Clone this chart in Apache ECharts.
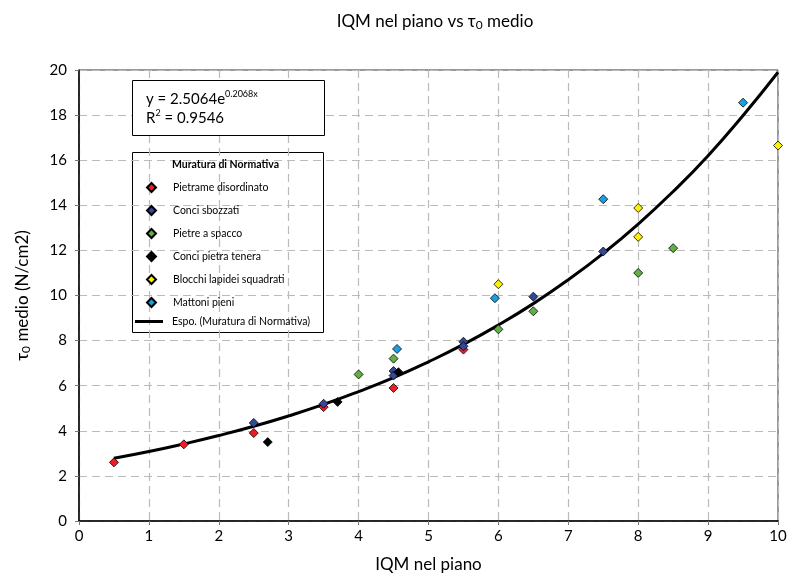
<!DOCTYPE html>
<html>
<head>
<meta charset="utf-8">
<title>IQM nel piano vs tau0 medio</title>
<script src="https://cdn.jsdelivr.net/npm/echarts@6/dist/echarts.min.js"></script>
<style>
  html, body { margin: 0; padding: 0; background: #fff; }
  #chart { width: 793px; height: 582px; }
</style>
</head>
<body>
<div id="chart"></div>
<script>
// punti [IQM nel piano, tau0 medio]
const pietrameDisordinato = [[0.5, 2.6], [1.5, 3.4], [2.5, 3.9], [3.5, 5.05], [4.5, 5.9], [5.5, 7.6]];
const conciSbozzati = [[2.5, 4.35], [3.5, 5.2], [4.5, 6.65], [4.5, 6.45], [5.5, 7.95], [5.5, 7.75], [6.5, 9.95], [7.5, 11.95]];
const pietreSpacco = [[4.0, 6.5], [4.5, 7.2], [6.0, 8.5], [6.5, 9.3], [8.0, 11.0], [8.5, 12.1]];
const conciPietraTenera = [[2.7, 3.5], [3.7, 5.28], [4.57, 6.6]];
const blocchiLapidei = [[6.0, 10.5], [8.0, 12.6], [8.0, 13.88], [10.0, 16.65]];
const mattoniPieni = [[4.55, 7.63], [5.95, 9.88], [7.5, 14.27], [9.5, 18.55]];
// curva di tendenza
const trendX = [0.5, 1, 1.5, 2, 2.5, 3, 3.5, 4, 4.5, 5, 5.5, 6, 6.5, 7, 7.5, 8, 8.5, 9, 9.5, 10];
const trendY = [2.78, 3.08, 3.42, 3.79, 4.2, 4.66, 5.17, 5.74, 6.36, 7.06, 7.83, 8.69, 9.64, 10.7, 11.87, 13.17, 14.61, 16.2, 17.98, 19.9];

const seriesNames = ['Pietrame disordinato', 'Conci sbozzati', 'Pietre a spacco', 'Conci pietra tenera', 'Blocchi lapidei squadrati', 'Mattoni pieni'];
const seriesColors = ['#f01c24', '#34489a', '#62b043', '#000000', '#fff000', '#1aa0e2'];
const seriesData = [pietrameDisordinato, conciSbozzati, pietreSpacco, conciPietraTenera, blocchiLapidei, mattoniPieni];
const trendName = 'Espo. (Muratura di Normativa)';

const font = 'Lato, "DejaVu Sans", sans-serif';
const chart = echarts.init(document.getElementById('chart'));

const subRich = { sub: { fontFamily: font, fontSize: 12, verticalAlign: 'bottom', padding: [7, 0, 0, 0], color: '#000' } };

const scatterSeries = seriesNames.map((name, i) => ({
    name: name,
    type: 'scatter',
    symbol: 'diamond',
    symbolSize: 9,
    itemStyle: { color: seriesColors[i], borderColor: '#000', borderWidth: 0.8, opacity: 1 },
    data: seriesData[i],
    z: 3
}));

const option = {
    animation: false,
    backgroundColor: '#fff',
    textStyle: { fontFamily: font },
    title: {
        text: 'IQM nel piano vs τ{sub|0} medio',
        left: 430,
        textAlign: 'center',
        top: 7,
        textStyle: {
            fontFamily: font, fontSize: 17, fontWeight: 'normal', color: '#000',
            rich: subRich
        }
    },
    grid: {
        left: 79, right: 15, top: 70, bottom: 61,
        show: true, borderColor: '#333', borderWidth: 1
    },
    xAxis: {
        type: 'value', min: 0, max: 10, interval: 1,
        name: 'IQM nel piano', nameLocation: 'middle', nameGap: 35,
        nameTextStyle: { fontFamily: font, fontSize: 17, color: '#000' },
        axisLine: { show: true, lineStyle: { color: '#000', width: 1.5 } },
        axisTick: { show: true, length: 4, lineStyle: { color: '#777' } },
        axisLabel: { margin: 8, fontFamily: font, fontSize: 15, color: '#000' },
        splitLine: { show: true, lineStyle: { color: '#bbb', width: 1.2, type: [8, 5] } }
    },
    yAxis: {
        type: 'value', min: 0, max: 20, interval: 2,
        name: 'τ{sub|0} medio (N/cm2)', nameLocation: 'middle', nameGap: 47, nameRotate: 90,
        nameTextStyle: { fontFamily: font, fontSize: 17, color: '#000', rich: subRich },
        axisLine: { show: true, lineStyle: { color: '#000', width: 1.5 } },
        axisTick: { show: true, length: 4, lineStyle: { color: '#777' } },
        axisLabel: { margin: 12, fontFamily: font, fontSize: 15, color: '#000' },
        splitLine: { show: true, lineStyle: { color: '#bbb', width: 1.2, type: [8, 5] } }
    },
    legend: [
        {
            orient: 'vertical',
            left: 146, top: 182,
            padding: 0,
            itemWidth: 9, itemHeight: 9, itemGap: 12,
            textStyle: { fontFamily: font, fontSize: 10.5, color: '#000', padding: [0, 0, 0, 12] },
            data: seriesNames.map(n => ({ name: n, icon: 'diamond' }))
        },
        {
            orient: 'vertical',
            left: 135, top: 316,
            padding: 0,
            itemWidth: 28, itemHeight: 3,
            textStyle: { fontFamily: font, fontSize: 10.5, color: '#000', padding: [0, 0, 0, 4] },
            data: [{ name: trendName, icon: 'rect', itemStyle: { color: '#000' } }]
        }
    ],
    graphic: [
        {
            type: 'rect', left: 132, top: 80, z: 10,
            shape: { width: 192, height: 55 },
            style: { fill: '#fff', stroke: '#000', lineWidth: 1 }
        },
        {
            type: 'text', left: 146, top: 90, z: 11,
            style: {
                text: 'y = 2.5064e{sup|0.2068x}\nR{sup|2} = 0.9546',
                fontFamily: font, fontSize: 15, fill: '#000', lineHeight: 19,
                rich: { sup: { fontFamily: font, fontSize: 9, verticalAlign: 'top', padding: [0, 0, 8, 0] } }
            }
        },
        {
            type: 'rect', left: 132, top: 152, z: 0,
            shape: { width: 191, height: 180 },
            style: { fill: '#fff', stroke: '#000', lineWidth: 1 }
        },
        {
            type: 'text', left: 172, top: 159, z: 11,
            style: { text: 'Muratura di Normativa', fontFamily: font, fontSize: 10.5, fontWeight: 'bold', fill: '#000' }
        }
    ],
    series: scatterSeries.concat([{
        name: trendName,
        type: 'line',
        smooth: true,
        showSymbol: false,
        symbol: 'none',
        lineStyle: { color: '#000', width: 3 },
        itemStyle: { color: '#000' },
        data: trendX.map((x, i) => [x, trendY[i]]),
        z: 2
    }])
};

chart.setOption(option);
</script>
</body>
</html>
